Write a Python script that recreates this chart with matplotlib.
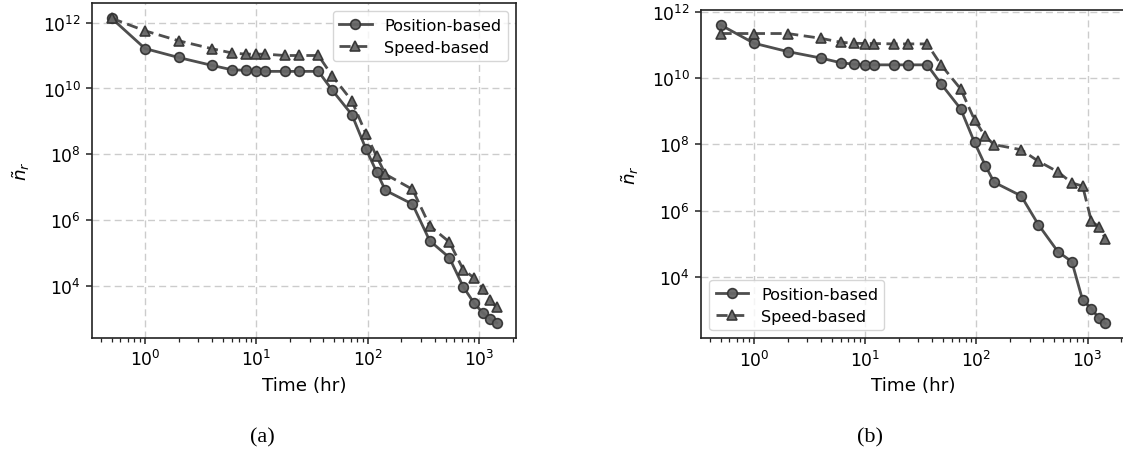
import matplotlib
matplotlib.use("Agg")
import matplotlib.pyplot as plt
from matplotlib import ticker

# Elapsed time (hours)
time_hr = [0.5, 1, 2, 4, 6, 8, 10, 12, 18, 24, 36, 48, 72, 96, 120, 144,
           252, 360, 540, 720, 900, 1080, 1260, 1440]

# (a) estimated number of candidates
pos_a = [1.35e12, 1.62e11, 8.7e10, 5.0e10, 3.7e10, 3.55e10, 3.3e10, 3.3e10,
         3.3e10, 3.3e10, 3.3e10, 8.8e9, 1.6e9, 1.5e8, 2.95e7, 8.1e6,
         3.1e6, 2.4e5, 7.4e4, 9.6e3, 3.1e3, 1.56e3, 1.0e3, 7.8e2]
spd_a = [1.35e12, 5.6e11, 2.8e11, 1.6e11, 1.2e11, 1.1e11, 1.1e11, 1.1e11,
         1.0e11, 1.0e11, 1.0e11, 2.4e10, 4.2e9, 4.3e8, 8.7e7, 2.5e7,
         8.7e6, 6.8e5, 2.2e5, 3.2e4, 1.8e4, 8.5e3, 3.7e3, 2.3e3]

# (b) estimated number of candidates
pos_b = [4.0e11, 1.12e11, 6.3e10, 4.0e10, 2.9e10, 2.6e10, 2.5e10, 2.5e10,
         2.5e10, 2.5e10, 2.5e10, 6.7e9, 1.18e9, 1.15e8, 2.3e7, 7.2e6,
         2.8e6, 3.8e5, 5.8e4, 2.9e4, 2.0e3, 1.12e3, 5.7e2, 4.0e2]
spd_b = [2.2e11, 2.2e11, 2.2e11, 1.58e11, 1.2e11, 1.12e11, 1.1e11, 1.1e11,
         1.07e11, 1.07e11, 1.07e11, 2.5e10, 4.7e9, 5.5e8, 1.74e8, 9.8e7,
         6.9e7, 3.1e7, 1.48e7, 6.9e6, 5.5e6, 4.8e5, 3.3e5, 1.45e5]

series_labels = ["Position-based", "Speed-based"]
panel_labels = ["(a)", "(b)"]

LINE = "#444444"
FACE = "#666666"
EDGE = "#333333"

W, H = 1123, 456
fig = plt.figure(figsize=(W / 100, H / 100), dpi=100)
ax_a = fig.add_axes([0.0822, 0.2566, 0.3773, 0.7346])
ax_b = fig.add_axes([0.6245, 0.2559, 0.3769, 0.7200])


def draw(ax, pos, spd, legend_loc):
    ax.plot(time_hr, pos, "-o", color=LINE, lw=2.0, ms=7.0,
            mfc=FACE, mec=EDGE, mew=1.2, alpha=0.95, label=series_labels[0])
    ax.plot(time_hr, spd, "^", ls=(0, (4, 2)), color=LINE, lw=2.0, ms=7.3,
            mfc=FACE, mec=EDGE, mew=1.2, alpha=0.95, label=series_labels[1])
    ax.set_xscale("log")
    ax.set_yscale("log")
    ax.set_yticks([1e4, 1e6, 1e8, 1e10, 1e12])
    ax.yaxis.set_minor_locator(ticker.NullLocator())
    ax.grid(True, which="major", ls=(0, (5, 3)), color="#cccccc", lw=1.0)
    ax.set_axisbelow(True)
    ax.tick_params(axis="both", which="major", labelsize=12.3,
                   length=4.5, width=1.1, color="#222222")
    ax.tick_params(axis="x", which="minor", length=2.8, width=0.9,
                   color="#222222")
    for sp in ax.spines.values():
        sp.set_linewidth(1.2)
        sp.set_color("#222222")
    ax.set_xlabel("Time (hr)", fontsize=13.2, labelpad=5)
    ax.set_ylabel(r"$\tilde{n}_r$", fontsize=13.2, labelpad=8)
    ax.legend(loc=legend_loc, fontsize=11.6, framealpha=0.8,
              handlelength=2.0, borderpad=0.4, labelspacing=0.45)


draw(ax_a, pos_a, spd_a, "upper right")
draw(ax_b, pos_b, spd_b, "lower left")

# panel captions below each plot
for x_px, lab in zip([262, 870], panel_labels):
    fig.text(x_px / W, 1 - 438 / H, lab, ha="center", va="center",
             fontsize=16, family="Liberation Serif")

fig.savefig("out.png", dpi=100)
